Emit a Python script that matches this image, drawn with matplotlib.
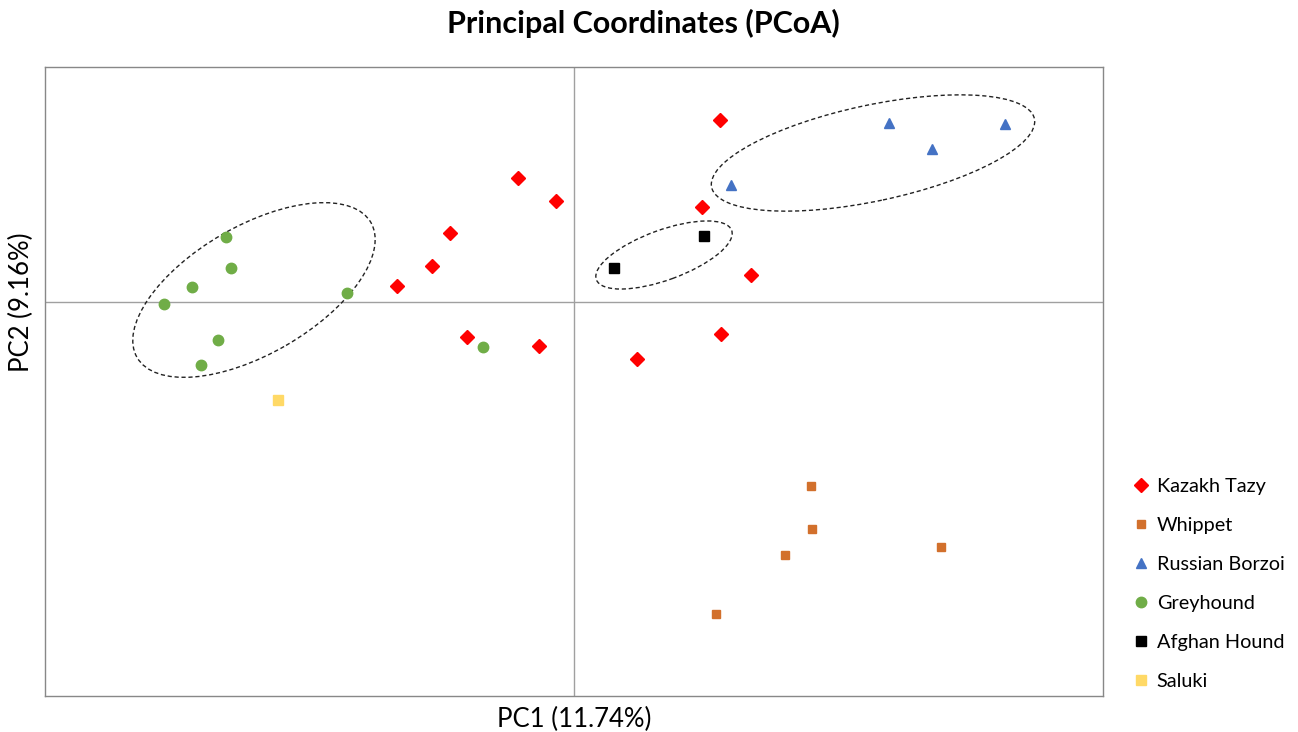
import matplotlib.pyplot as plt
from matplotlib.patches import Ellipse

plt.rcParams['font.family'] = ['Lato', 'DejaVu Sans']

# PCoA scores (arbitrary units)
tazy_x = [0.146, -0.056, -0.018, 0.128, -0.124, -0.142, 0.177, -0.177, -0.107, -0.035, 0.147, 0.063]
tazy_y = [0.182, 0.124, 0.101, 0.095, 0.069, 0.036, 0.027, 0.016, -0.035, -0.044, -0.032, -0.057]
whippet_x = [0.237, 0.238, 0.211, 0.367, 0.142]
whippet_y = [-0.184, -0.227, -0.253, -0.245, -0.312]
borzoi_x = [0.315, 0.358, 0.431, 0.157]
borzoi_y = [0.179, 0.153, 0.178, 0.117]
grey_x = [-0.348, -0.343, -0.382, -0.410, -0.227, -0.356, -0.373, -0.091]
grey_y = [0.065, 0.034, 0.015, -0.002, 0.009, -0.038, -0.063, -0.045]
afghan_x = [0.130, 0.040]
afghan_y = [0.066, 0.034]
saluki_x = [-0.296]
saluki_y = [-0.098]

# cluster ellipses: centre x, centre y, width, height, angle
clusters = [
    (-0.320, 0.012, 0.270, 0.128, 30),
    (0.299, 0.149, 0.330, 0.096, 12),
    (0.090, 0.047, 0.144, 0.050, 20),
]

fig = plt.figure(figsize=(12.98, 7.32), dpi=100)
ax = fig.add_axes([45 / 1298, 36 / 732, 1058 / 1298, 629 / 732])

ax.plot(tazy_x, tazy_y, 'D', color='#ff0000', markersize=7.5, label='Kazakh Tazy', zorder=3)
ax.plot(whippet_x, whippet_y, 's', color='#d2702c', markersize=6, label='Whippet', zorder=3)
ax.plot(borzoi_x, borzoi_y, '^', color='#4472c4', markersize=7.5, label='Russian Borzoi', zorder=3)
ax.plot(grey_x, grey_y, 'o', color='#70ad47', markersize=7.5, label='Greyhound', zorder=3)
ax.plot(afghan_x, afghan_y, 's', color='black', markersize=7.5, label='Afghan Hound', zorder=3)
ax.plot(saluki_x, saluki_y, 's', color='#ffd966', markersize=7, label='Saluki', zorder=3)

for cx, cy, w, h, ang in clusters:
    ax.add_patch(Ellipse((cx, cy), w, h, angle=ang, fill=False, edgecolor='#222222',
                         linestyle=(0, (3, 2)), linewidth=1.0, zorder=2))

ax.axhline(0, color='#a0a0a0', linewidth=1, zorder=1)
ax.axvline(0, color='#a0a0a0', linewidth=1, zorder=1)

ax.set_xlim(-0.529, 0.529)
ax.set_ylim(-0.394, 0.235)
ax.set_xticks([])
ax.set_yticks([])
for s in ax.spines.values():
    s.set_color('#888888')
    s.set_linewidth(1)

ax.set_xlabel('PC1 (11.74%)', fontsize=18.5, labelpad=8)
ax.set_ylabel('PC2 (9.16%)', fontsize=18.5)
ax.yaxis.set_label_coords(-0.010, 0.626)

fig.text(643 / 1298, 1 - 23 / 732, 'Principal Coordinates (PCoA)', fontsize=22,
         fontweight='bold', ha='center', va='center')

fig.legend(loc='upper left', bbox_to_anchor=(1125 / 1298, 1 - 470 / 732), frameon=False,
           fontsize=14.3, labelspacing=1.11, handlelength=0.8, handletextpad=0.4,
           borderaxespad=0)

fig.savefig('out.png', dpi=100)
